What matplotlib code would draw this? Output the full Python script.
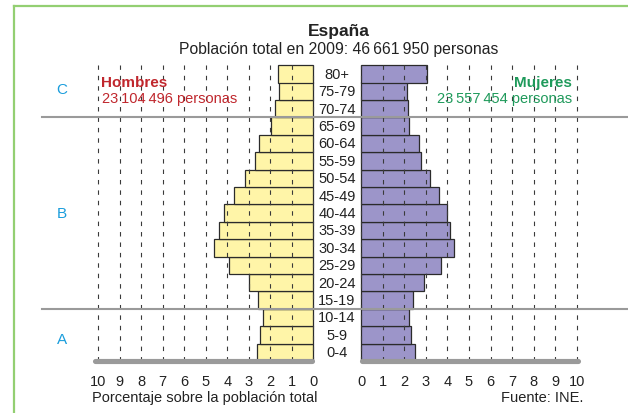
import numpy as np
import matplotlib
matplotlib.use('Agg')
import matplotlib.pyplot as plt
import matplotlib.transforms as mtransforms
from matplotlib.lines import Line2D

plt.rcParams['font.family'] = ['Liberation Sans', 'DejaVu Sans']
plt.rcParams['lines.scale_dashes'] = False

# datos (porcentaje sobre la poblacion total), de 0-4 a 80+
edades = ['0-4', '5-9', '10-14', '15-19', '20-24', '25-29', '30-34', '35-39',
          '40-44', '45-49', '50-54', '55-59', '60-64', '65-69', '70-74',
          '75-79', '80+']
hombres = [2.64, 2.47, 2.34, 2.56, 3.01, 3.94, 4.64, 4.38, 4.15, 3.70, 3.17,
           2.72, 2.52, 1.97, 1.80, 1.58, 1.66]
mujeres = [2.49, 2.32, 2.21, 2.43, 2.91, 3.72, 4.30, 4.11, 3.96, 3.63, 3.19,
           2.79, 2.68, 2.20, 2.17, 2.12, 3.05]
ticks = list(range(0, 11))
grupos = [('C', 90), ('B', 214), ('A', 340)]   # letra, y en pixeles
cortes = [2.5, 13.5]

W, H = 628, 414
fig = plt.figure(figsize=(W / 100, H / 100), dpi=100)


def fx(px):
    return px / W


def fy(py):
    return 1 - py / H


amarillo = '#fff5a8'
morado = '#9c95c9'
borde = '#2b2b2b'
gris = '#9a9a9a'
rejilla = '#3a3a3a'
texto = '#222222'

y = np.arange(len(edades))
ylim = ((353.2 - 370) / 17.4, (353.2 - 60) / 17.4)

axL = fig.add_axes([fx(88), fy(370), fx(318 - 88), (370 - 60) / H])
axR = fig.add_axes([fx(356), fy(370), fx(590 - 356), (370 - 60) / H])
axL.set_xlim((313.3 - 88) / 21.5, (313.3 - 318) / 21.5)
axR.set_xlim((356 - 361) / 21.6, (590 - 361) / 21.6)

for ax, vals, col in [(axL, hombres, amarillo), (axR, mujeres, morado)]:
    ax.set_ylim(*ylim)
    ax.barh(y, vals, height=1.0, color=col, edgecolor=borde, linewidth=0.9,
            zorder=2)
    ax.vlines(ticks, -0.5, len(edades) - 0.5, colors=rejilla, linewidth=0.8,
              linestyles=(0, (3.2, 4.3)), zorder=3)
    for s in ax.spines.values():
        s.set_visible(False)
    ax.set_yticks([])
    ax.set_xticks(ticks)
    ax.set_xticklabels([str(t) for t in ticks])
    ax.tick_params(axis='x', length=0, pad=3.5, labelsize=10.5,
                   labelcolor=texto)
    ax.patch.set_alpha(0)

axL.plot([0.05, 10.15], [-0.52, -0.52], color=gris, linewidth=3.7,
         solid_capstyle='round', zorder=4, clip_on=False)
axR.plot([0.05, 10.05], [-0.52, -0.52], color=gris, linewidth=3.7,
         solid_capstyle='round', zorder=4, clip_on=False)

# x en figura, y en datos de las barras
trans = mtransforms.blended_transform_factory(fig.transFigure, axL.transData)

# lineas de separacion de grupos
for c in cortes:
    fig.add_artist(Line2D([fx(42), 1.0], [c, c], transform=trans, color=gris,
                          linewidth=1.5, zorder=5))

# etiquetas de edad
for i, e in enumerate(edades):
    fig.text(fx(337), i, e, transform=trans, ha='center', va='center',
             fontsize=10.5, color=texto)

# marco verde
fig.add_artist(Line2D([fx(14.5), 1.0], [fy(6.5), fy(6.5)], color='#93cf72',
                      linewidth=1.6, transform=fig.transFigure))
fig.add_artist(Line2D([fx(14.5), fx(14.5)], [fy(6.5), 0], color='#93cf72',
                      linewidth=1.6, transform=fig.transFigure))

fig.text(fx(339), fy(35.7), 'España', ha='center', va='baseline',
         fontsize=12.5, fontweight='bold', color=texto)
fig.text(fx(339), fy(54.3), 'Población total en 2009: 46\u2009661\u2009950 personas',
         ha='center', va='baseline', fontsize=11.3, color=texto)

fig.text(fx(101.5), fy(87), 'Hombres', ha='left', va='baseline', fontsize=11,
         fontweight='bold', color='#c0272d')
fig.text(fx(101.5), fy(103), '23\u2009104\u2009496 personas', ha='left',
         va='baseline', fontsize=10.5, color='#c0272d')
fig.text(fx(572), fy(87), 'Mujeres', ha='right', va='baseline', fontsize=11,
         fontweight='bold', color='#1f9a5b')
fig.text(fx(572), fy(103), '23\u2009557\u2009454 personas', ha='right',
         va='baseline', fontsize=10.5, color='#1f9a5b')

for letra, py in grupos:
    fig.text(fx(62), fy(py), letra, ha='center', va='center', fontsize=11,
             color='#1a9ddc')

fig.text(fx(92), fy(401.7), 'Porcentaje sobre la población total', ha='left',
         va='baseline', fontsize=10.5, color=texto)
fig.text(fx(583), fy(401.7), 'Fuente: INE.', ha='right', va='baseline',
         fontsize=10.5, color=texto)

fig.savefig('out.png', dpi=100)
